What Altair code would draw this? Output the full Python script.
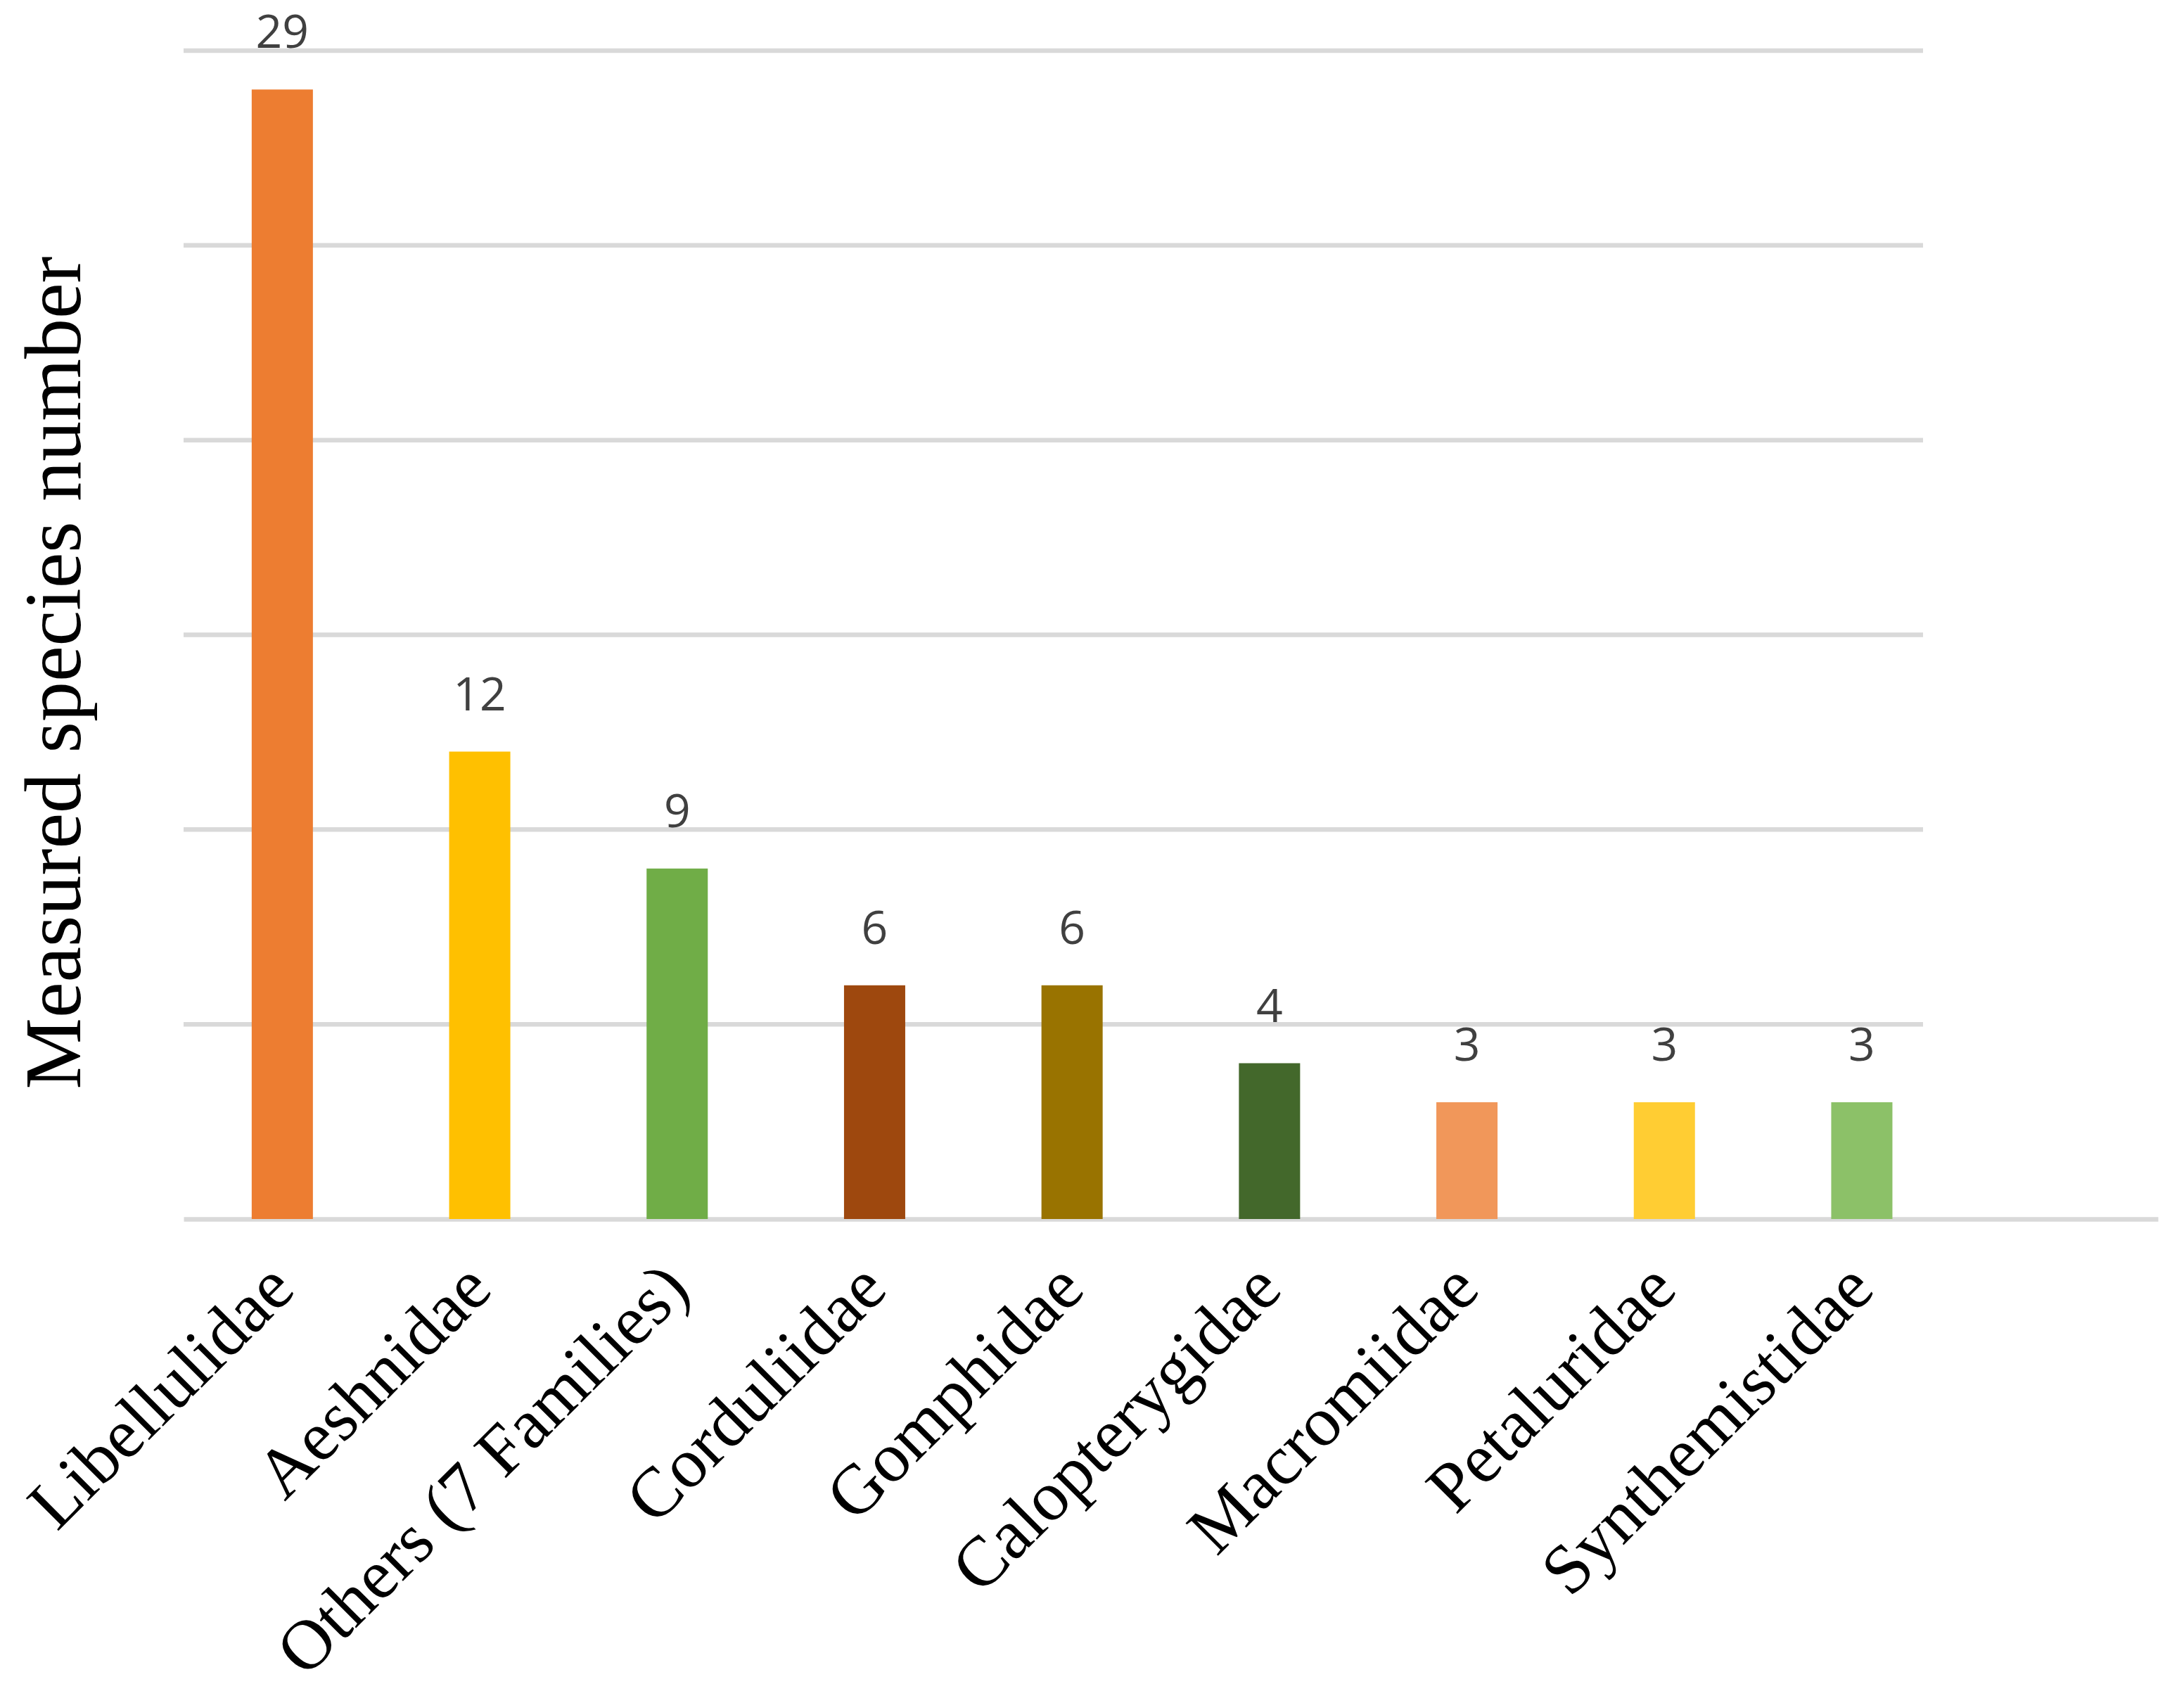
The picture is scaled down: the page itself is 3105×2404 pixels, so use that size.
import altair as alt
import pandas as pd

families = ["Libellulidae", "Aeshnidae", "Others (7 Families)", "Corduliidae",
            "Gomphidae", "Calopterygidae", "Macromiidae", "Petaluridae", "Synthemistidae"]
counts = [29, 12, 9, 6, 6, 4, 3, 3, 3]
colors = ["#ED7D31", "#FFC000", "#70AD47", "#9E480E", "#997300",
          "#43682B", "#F1975A", "#FFCD33", "#8CC168"]
y_ticks = [5, 10, 15, 20, 25, 30]

df = pd.DataFrame({"family": families, "count": counts})
grid_df = pd.DataFrame({"tick": y_ticks})

x_domain = families + [""]

x_enc = alt.X(
    "family:N",
    sort=x_domain,
    scale=alt.Scale(domain=x_domain, paddingInner=0.69, paddingOuter=0.345),
    axis=alt.Axis(
        title=None,
        labelAngle=-45,
        labelAlign="right",
        labelBaseline="middle",
        labelFont="Liberation Serif",
        labelFontSize=100,
        labelColor="#000000",
        labelPadding=82,
        labelLimit=0,
        labelOverlap=False,
        ticks=False,
        domain=True,
        domainColor="#d9d9d9",
        domainWidth=6.5,
        grid=False,
    ),
)

y_scale = alt.Scale(domain=[0, 30], nice=False)

y_enc = alt.Y(
    "count:Q",
    scale=y_scale,
    axis=alt.Axis(
        title="Measured species number",
        titleFont="Liberation Serif",
        titleFontSize=114,
        titleFontWeight="normal",
        titleColor="#000000",
        titleAngle=-90,
        titleAlign="center",
        titleBaseline="alphabetic",
        titleX=-148,
        titleY=884,
        labels=False,
        ticks=False,
        domain=False,
        grid=False,
    ),
)

grid = alt.Chart(grid_df).mark_rule(color="#d9d9d9", strokeWidth=6.5).encode(
    y=alt.Y("tick:Q", scale=y_scale),
    x=alt.value(0),
    x2=alt.value(2473),
)

base = alt.Chart(df)

bars = base.mark_bar().encode(
    x=x_enc,
    y=y_enc,
    color=alt.Color("family:N", scale=alt.Scale(domain=families, range=colors), legend=None),
)

labels = base.mark_text(
    dy=-59,
    baseline="alphabetic",
    align="center",
    font="Open Sans",
    fontSize=66,
    color="#404040",
).encode(
    x=alt.X("family:N", sort=x_domain),
    y=alt.Y("count:Q"),
    text=alt.Text("count:Q"),
)

chart = alt.layer(grid, bars, labels).properties(
    width=2807,
    height=1661,
    background="#ffffff",
    autosize=alt.AutoSizeParams(type="none"),
    padding={"left": 253, "top": 64, "right": 29, "bottom": 663},
).configure_view(stroke="transparent", strokeWidth=0)

chart.save("out.html", embed_options={"renderer": "svg", "actions": False})
